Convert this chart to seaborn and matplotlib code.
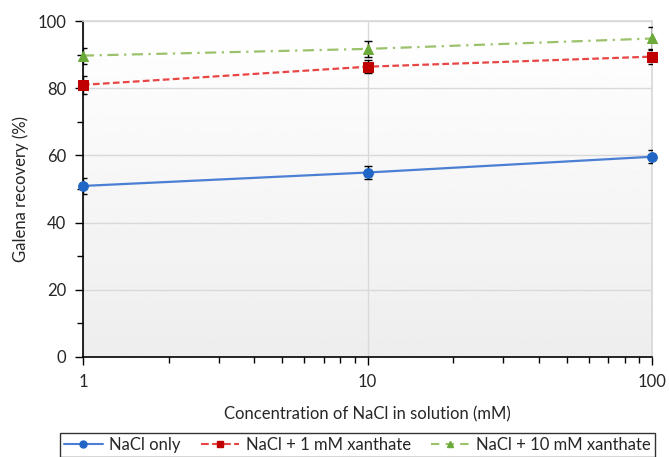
import numpy as np
import pandas as pd
import seaborn as sns
import matplotlib.pyplot as plt
from matplotlib.ticker import MultipleLocator, LogLocator, NullFormatter, FixedLocator

sns.set_theme(style='white')
plt.rcParams['font.family'] = ['Lato', 'DejaVu Sans']

# data
conc = [1, 10, 100]
series = ['NaCl only', 'NaCl + 1 mM xanthate', 'NaCl + 10 mM xanthate']
nacl_only = [50.9, 54.9, 59.6]
nacl_1mm = [81.0, 86.4, 89.4]
nacl_10mm = [89.7, 91.7, 94.8]
err_only = [2.4, 2.0, 1.9]
err_1mm = [2.6, 1.9, 2.3]
err_10mm = [2.4, 2.3, 3.5]

df = pd.DataFrame({
    'conc': conc * 3,
    'recovery': nacl_only + nacl_1mm + nacl_10mm,
    'err': err_only + err_1mm + err_10mm,
    'series': np.repeat(series, 3),
})

line_colors = {'NaCl only': '#4a7fd4', 'NaCl + 1 mM xanthate': '#e84545',
               'NaCl + 10 mM xanthate': '#9bc26b'}
marker_colors = {'NaCl only': '#2166c4', 'NaCl + 1 mM xanthate': '#c00000',
                 'NaCl + 10 mM xanthate': '#6aaa3a'}
markers = {'NaCl only': 'o', 'NaCl + 1 mM xanthate': 's', 'NaCl + 10 mM xanthate': '^'}
dashes = {'NaCl only': '', 'NaCl + 1 mM xanthate': (3, 1.5),
          'NaCl + 10 mM xanthate': (5, 2.5, 1, 2.5)}

fig = plt.figure(figsize=(6.69, 4.57), dpi=100)
ax = fig.add_axes([0.124, 0.219, 0.851, 0.735])

# soft gray gradient background
grad = np.linspace(0.93, 1.0, 256).reshape(-1, 1)
ax.imshow(grad, extent=[0, 1, 0, 1], transform=ax.transAxes, cmap='gray',
          vmin=0, vmax=1, aspect='auto', origin='lower', zorder=0)

# error bars
for s in series:
    d = df[df['series'] == s]
    ax.errorbar(d['conc'], d['recovery'], yerr=d['err'], fmt='none',
                ecolor='black', elinewidth=1, capsize=3, capthick=1, zorder=3)

sns.lineplot(data=df, x='conc', y='recovery', hue='series', style='series',
             palette=line_colors, markers=markers, dashes=dashes, ax=ax,
             linewidth=1.6, markersize=7, legend=False, zorder=4)

# darker markers than lines
for line, s in zip(ax.get_lines()[-3:], series):
    line.set_markerfacecolor(marker_colors[s])
    line.set_markeredgecolor(marker_colors[s])
    line.set_clip_on(False)

ax.set_xscale('log')
ax.set_xlim(1, 100)
ax.set_ylim(0, 100)
ax.xaxis.set_major_locator(FixedLocator([1, 10, 100]))
ax.set_xticklabels(['1', '10', '100'])
ax.xaxis.set_minor_locator(LogLocator(base=10, subs=np.arange(2, 10)))
ax.xaxis.set_minor_formatter(NullFormatter())
ax.yaxis.set_major_locator(MultipleLocator(20))
ax.yaxis.set_minor_locator(MultipleLocator(10))

ax.grid(which='major', color='#d9d9d9', linewidth=1)
ax.set_axisbelow(True)
for side in ['top', 'right']:
    ax.spines[side].set_color('#d9d9d9')
for side in ['left', 'bottom']:
    ax.spines[side].set_color('black')
    ax.spines[side].set_linewidth(1.2)

ax.tick_params(axis='both', which='major', direction='out', length=6, width=1,
               color='black', labelsize=12, labelcolor='#262626', pad=6,
               left=True, bottom=True)
ax.tick_params(axis='both', which='minor', direction='out', length=4, width=1,
               color='black', left=True, bottom=True)

ax.set_xlabel('Concentration of NaCl in solution (mM)', fontsize=12, color='#262626', labelpad=12)
ax.set_ylabel('Galena recovery (%)', fontsize=12, color='#262626', labelpad=6)

# legend below, boxed
handles = []
styles = ['-', '--', (0, (4, 3))]
for s, ls in zip(series, styles):
    h, = ax.plot([], [], color=line_colors[s], linestyle=ls,
                 marker=markers[s], markerfacecolor=marker_colors[s],
                 markeredgecolor=marker_colors[s], markersize=5, linewidth=1.5)
    handles.append(h)
leg = fig.legend(handles, series, loc='lower left', ncol=3,
                 bbox_to_anchor=(60 / 669, 0.0),
                 frameon=True, fancybox=False, fontsize=12,
                 handlelength=2.3, handletextpad=0.4, borderaxespad=0,
                 borderpad=0.25, columnspacing=1.2)
leg.get_frame().set_edgecolor('black')
leg.get_frame().set_linewidth(1)
for t in leg.get_texts():
    t.set_color('#262626')

fig.savefig('out.png', dpi=100)
